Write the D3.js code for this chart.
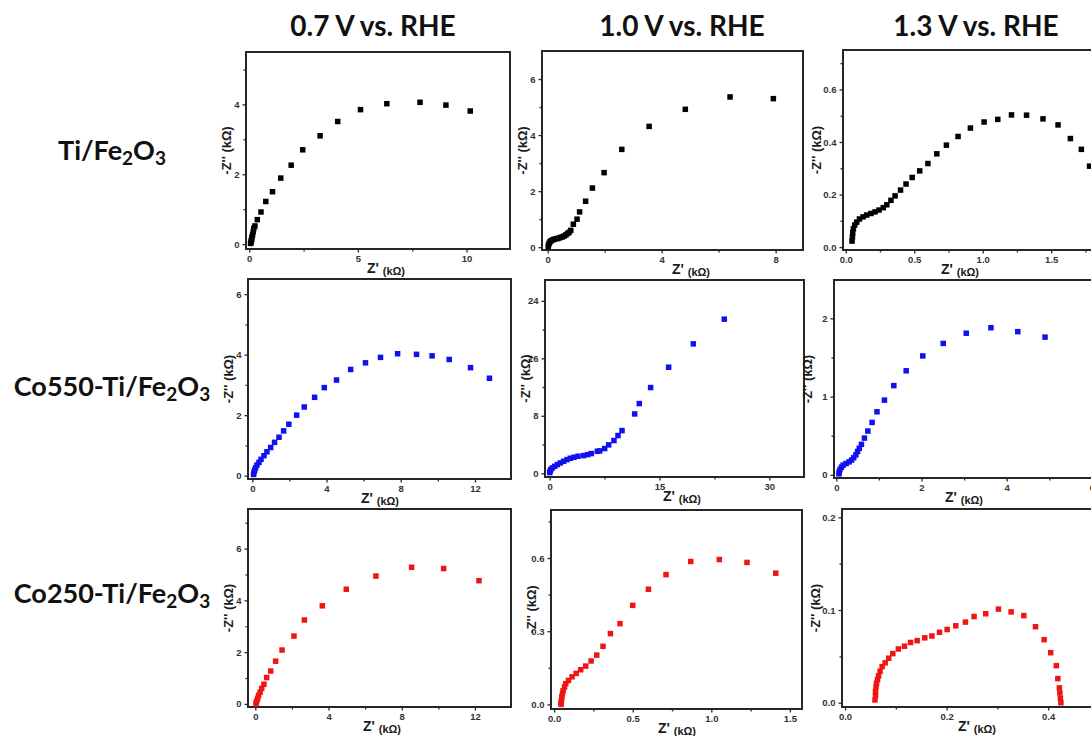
<!DOCTYPE html>
<html>
<head>
<meta charset="utf-8">
<script src="https://cdn.jsdelivr.net/npm/d3@7"></script>
<style>
  body { margin: 0; background: #fff; overflow: hidden; }
  svg { display: block; }
</style>
</head>
<body>
<svg id="chart" width="1091" height="736"></svg>
<script>
// Column headers (applied potential) and row headers (photoanode sample)
const potentials = ["0.7 V vs. RHE", "1.0 V vs. RHE", "1.3 V vs. RHE"];
const samples = ["Ti/Fe2O3", "Co550-Ti/Fe2O3", "Co250-Ti/Fe2O3"];
const sampleColors = ["#000000", "#1010f2", "#f01414"];

// Nyquist data, Z' (kOhm) and -Z'' (kOhm)
// Ti/Fe2O3
const zre_Ti_07 = [0.06,0.08,0.09,0.11,0.12,0.15,0.18,0.21,0.26,0.37,0.54,0.76,1.07,1.45,1.93,2.46,3.26,4.07,5.12,6.33,7.86,9.05,10.17];
const zim_Ti_07 = [0.02,0.05,0.09,0.13,0.19,0.26,0.35,0.45,0.52,0.70,0.92,1.22,1.50,1.89,2.26,2.70,3.10,3.51,3.85,4.02,4.06,3.98,3.81];
const zre_Ti_10 = [0.02,0.03,0.05,0.08,0.12,0.17,0.22,0.28,0.34,0.40,0.46,0.52,0.58,0.64,0.70,0.75,0.81,0.90,1.03,1.12,1.33,1.57,1.98,2.60,3.56,4.83,6.40,7.92];
const zim_Ti_10 = [0.02,0.08,0.14,0.19,0.23,0.26,0.28,0.30,0.31,0.33,0.35,0.37,0.40,0.44,0.49,0.53,0.60,0.82,1.00,1.26,1.64,2.11,2.66,3.49,4.31,4.92,5.36,5.30];
const zre_Ti_13 = [0.046,0.049,0.051,0.056,0.066,0.080,0.100,0.126,0.153,0.184,0.214,0.243,0.274,0.300,0.330,0.360,0.400,0.440,0.485,0.540,0.600,0.665,0.735,0.820,0.910,1.010,1.110,1.210,1.320,1.440,1.550,1.640,1.720,1.780];
const zim_Ti_13 = [0.023,0.039,0.055,0.070,0.084,0.095,0.107,0.115,0.122,0.128,0.134,0.141,0.150,0.161,0.178,0.195,0.217,0.240,0.265,0.290,0.318,0.355,0.388,0.421,0.453,0.476,0.486,0.503,0.502,0.488,0.465,0.413,0.372,0.308];
// Co550-Ti/Fe2O3
const zre_Co550_07 = [0.07,0.09,0.13,0.18,0.25,0.36,0.47,0.63,0.79,0.99,1.20,1.44,1.69,1.97,2.39,2.80,3.36,3.88,4.54,5.30,6.10,6.91,7.83,8.85,9.69,10.61,11.76,12.78];
const zim_Co550_07 = [0.04,0.11,0.18,0.26,0.35,0.44,0.54,0.66,0.79,0.93,1.10,1.27,1.48,1.70,2.00,2.27,2.59,2.91,3.16,3.51,3.73,3.91,4.03,4.01,3.96,3.84,3.57,3.22];
const zre_Co550_10 = [0.00,0.05,0.14,0.36,0.68,1.05,1.46,1.91,2.37,2.82,3.32,3.87,4.64,5.19,5.69,6.51,6.83,7.51,8.06,8.78,9.33,9.88,11.61,12.24,13.79,16.25,19.62,23.85];
const zim_Co550_10 = [0.09,0.28,0.51,0.74,0.97,1.21,1.44,1.67,1.90,2.09,2.23,2.37,2.46,2.60,2.74,3.06,3.11,3.44,3.95,4.55,5.25,5.94,8.26,9.70,11.93,14.76,18.01,21.45];
const zre_Co550_13 = [0.063,0.070,0.086,0.12,0.16,0.23,0.30,0.36,0.41,0.46,0.50,0.54,0.59,0.66,0.74,0.84,0.955,1.13,1.35,1.64,2.03,2.51,3.05,3.63,4.26,4.90];
const zim_Co550_13 = [0.013,0.038,0.068,0.098,0.124,0.145,0.166,0.19,0.22,0.256,0.30,0.34,0.39,0.47,0.56,0.67,0.806,0.955,1.14,1.33,1.52,1.68,1.81,1.88,1.83,1.76];
// Co250-Ti/Fe2O3
const zre_Co250_07 = [0.04,0.05,0.09,0.13,0.18,0.26,0.35,0.47,0.62,0.84,1.11,1.46,2.11,2.68,3.66,4.97,6.59,8.54,10.29,12.22];
const zim_Co250_07 = [0.00,0.05,0.13,0.22,0.33,0.45,0.60,0.76,1.02,1.27,1.65,2.08,2.62,3.24,3.79,4.43,4.94,5.28,5.23,4.76];
const zre_Co250_10 = [0.044,0.044,0.047,0.049,0.053,0.057,0.066,0.074,0.091,0.114,0.140,0.169,0.201,0.235,0.271,0.311,0.358,0.419,0.500,0.600,0.712,0.869,1.051,1.227,1.410];
const zim_Co250_10 = [0.000,0.008,0.019,0.031,0.044,0.056,0.071,0.085,0.098,0.113,0.127,0.142,0.157,0.178,0.202,0.238,0.290,0.331,0.406,0.472,0.532,0.586,0.594,0.582,0.538];
const zre_Co250_13 = [0.059,0.060,0.060,0.061,0.062,0.064,0.066,0.069,0.073,0.079,0.086,0.094,0.105,0.117,0.129,0.142,0.157,0.171,0.186,0.201,0.218,0.237,0.254,0.277,0.302,0.327,0.352,0.375,0.392,0.405,0.416,0.419,0.422,0.423,0.424,0.425];
const zim_Co250_13 = [0.003,0.0076,0.012,0.017,0.021,0.025,0.029,0.034,0.039,0.043,0.048,0.053,0.058,0.061,0.065,0.067,0.070,0.072,0.076,0.079,0.083,0.087,0.093,0.096,0.101,0.098,0.094,0.082,0.068,0.054,0.040,0.026,0.016,0.0105,0.0047,0.000];

// Axis ranges and tick labels per panel
const xDomains = [[-0.15,12],[-0.2,8.96],[-0.02,1.9],
                  [-0.23,13.94],[-0.64,34.74],[-0.054,6.19],
                  [-0.4,13.97],[-0.02,1.577],[-0.006,0.502]];
const yDomains = [[-0.14,5.5],[-0.1,7.0],[-0.011,0.75],
                  [-0.11,6.5],[-0.52,26.9],[-0.04,2.49],
                  [-0.12,7.53],[-0.019,0.797],[-0.0046,0.209]];
const xTicks = [[0,5,10],[0,4,8],[0,0.5,1.0,1.5],
                [0,4,8,12],[0,15,30],[0,2,4,6],
                [0,4,8,12],[0,0.5,1.0,1.5],[0,0.2,0.4]];
const xMinor = [[2.5,7.5],[2,6],[0.25,0.75,1.25,1.75],
                [2,6,10],[7.5,22.5],[1,3,5],
                [2,6,10],[0.25,0.75,1.25],[0.1,0.3,0.5]];
const yTicks = [[0,2,4],[0,2,4,6],[0,0.2,0.4,0.6],
                [0,2,4,6],[0,8,16,24],[0,1,2],
                [0,2,4,6],[0,0.3,0.6],[0,0.1,0.2]];
const yMinor = [[1,3,5],[1,3,5],[0.1,0.3,0.5,0.7],
                [1,3,5],[4,12,20],[0.5,1.5],
                [1,3,5,7],[0.15,0.45,0.75],[0.05,0.15]];
const decimals = [0,0,1, 0,0,0, 0,1,1];

const seriesX = [zre_Ti_07, zre_Ti_10, zre_Ti_13, zre_Co550_07, zre_Co550_10, zre_Co550_13, zre_Co250_07, zre_Co250_10, zre_Co250_13];
const seriesY = [zim_Ti_07, zim_Ti_10, zim_Ti_13, zim_Co550_07, zim_Co550_10, zim_Co550_13, zim_Co250_07, zim_Co250_10, zim_Co250_13];

// Plot frames: [left, top, right, bottom] in px
const frames = [[246,52,510,249],[542,51,803,250],[843,50,1106,250],
                [248,279,511,479],[545,280,804,477],[834,280,1100,478],
                [248,509,511,707],[551,510,802,709],[842,509,1100,707]];
const yLabelGap = [20, 20, 27];
const xLabelCenter = [386, 691, 960, 380, 682, 964, 382, 677, 977];

const svg = d3.select("#chart");
const tickFont = "'Liberation Sans', Arial, sans-serif";

// Column titles
const titleX = [373, 682, 976];
svg.selectAll("text.title").data(potentials).join("text")
  .attr("class", "title")
  .attr("x", (d, i) => titleX[i]).attr("y", 36)
  .attr("text-anchor", "middle")
  .style("font-family", "Lato, sans-serif").style("font-weight", "700")
  .style("font-size", "28px").style("fill", "#111")
  .text(d => d);

// Row titles with chemical subscripts
const rowBaseline = [160, 396, 603];
samples.forEach((s, i) => {
  const t = svg.append("text")
    .attr("x", 112).attr("y", rowBaseline[i])
    .attr("text-anchor", "middle")
    .style("font-family", "Lato, sans-serif").style("font-weight", "700")
    .style("font-size", "27px").style("fill", "#111");
  const parts = s.split(/(\d)(?=O|$)/);
  parts.forEach(p => {
    if (p === "") return;
    if (/^\d$/.test(p)) {
      t.append("tspan").attr("baseline-shift", "-28%").style("font-size", "19px").text(p);
    } else {
      t.append("tspan").text(p);
    }
  });
});

frames.forEach((f, k) => {
  const [L, T, R, B] = f;
  const col = k % 3, row = Math.floor(k / 3);
  const x = d3.scaleLinear().domain(xDomains[k]).range([L, R]);
  const y = d3.scaleLinear().domain(yDomains[k]).range([B, T]);
  const fmt = decimals[k] ? d3.format(".1f") : d3.format("d");
  const g = svg.append("g");

  const clipId = "clip" + k;
  svg.append("clipPath").attr("id", clipId)
    .append("rect").attr("x", L).attr("y", T).attr("width", R - L).attr("height", B - T);

  // Axes: bottom and left with outward ticks
  const xAxis = g.append("g").attr("transform", `translate(0,${B})`)
    .call(d3.axisBottom(x).tickValues(xTicks[k]).tickFormat(fmt).tickSize(3.5).tickPadding(3));
  const xAxisMinor = g.append("g").attr("transform", `translate(0,${B})`)
    .call(d3.axisBottom(x).tickValues(xMinor[k].filter(v => x(v) <= R)).tickFormat("").tickSize(2.5));
  const yAxis = g.append("g").attr("transform", `translate(${L},0)`)
    .call(d3.axisLeft(y).tickValues(yTicks[k]).tickFormat(fmt).tickSize(3.5).tickPadding(3));
  const yAxisMinor = g.append("g").attr("transform", `translate(${L},0)`)
    .call(d3.axisLeft(y).tickValues(yMinor[k].filter(v => y(v) >= T)).tickFormat("").tickSize(2.5));
  [xAxis, xAxisMinor, yAxis, yAxisMinor].forEach(a => {
    a.select(".domain").remove();
    a.selectAll("line").attr("stroke", "#2a2a2a").attr("stroke-width", 1.3);
    a.selectAll("text").style("font-family", tickFont).style("font-weight", "700")
      .style("font-size", "9.5px").style("fill", "#333");
  });

  // Frame
  g.append("rect").attr("x", L).attr("y", T).attr("width", R - L).attr("height", B - T)
    .attr("fill", "none").attr("stroke", "#262626").attr("stroke-width", 2);

  // Data squares
  const pts = seriesX[k].map((v, i) => [v, seriesY[k][i]]);
  const s = 5.5;
  g.append("g").attr("clip-path", `url(#${clipId})`)
    .selectAll("rect").data(pts).join("rect")
    .attr("x", d => x(d[0]) - s / 2).attr("y", d => y(d[1]) - s / 2)
    .attr("width", s).attr("height", s)
    .attr("fill", sampleColors[row]);

  // X axis title
  const xl = g.append("text")
    .attr("x", xLabelCenter[k]).attr("y", B + 24)
    .attr("text-anchor", "middle")
    .style("font-family", tickFont).style("font-weight", "700").style("fill", "#1a1a1a");
  xl.append("tspan").style("font-size", "14px").text("Z' ");
  xl.append("tspan").attr("dy", 2).style("font-size", "11px").text("(k\u03A9)");

  // Y axis title
  g.append("text")
    .attr("transform", `translate(${L - yLabelGap[col]},${(T + B) / 2}) rotate(-90)`)
    .attr("text-anchor", "middle").attr("dy", "0.35em")
    .style("font-family", tickFont).style("font-weight", "700")
    .style("font-size", "13px").style("fill", "#1a1a1a")
    .text("-Z'' (k\u03A9)");
});
</script>
</body>
</html>
